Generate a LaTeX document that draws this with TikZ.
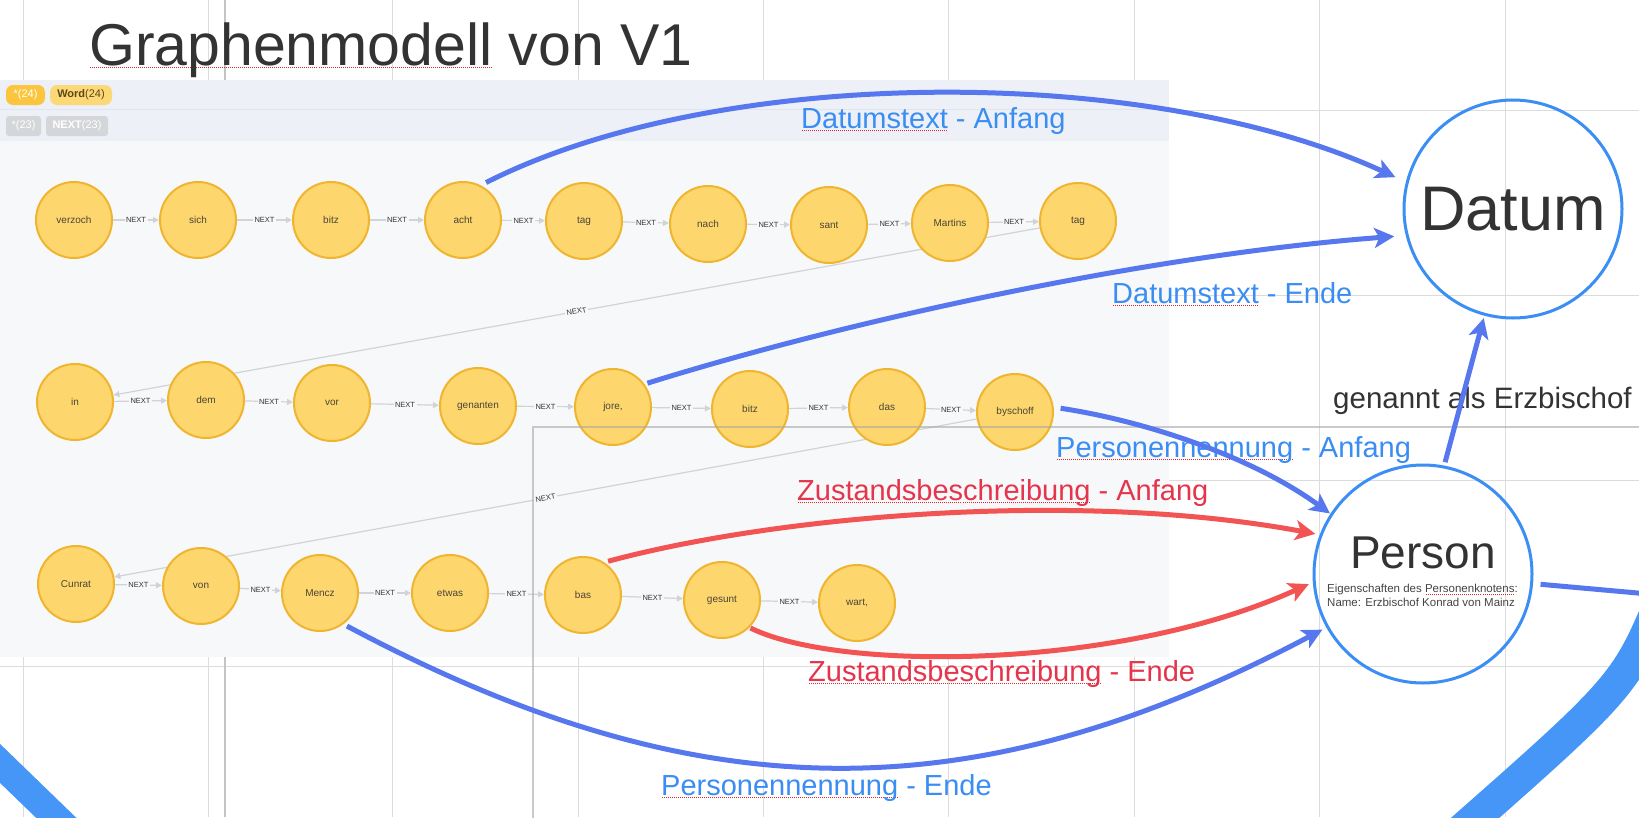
\documentclass[tikz,border=0pt]{standalone}
\usepackage{fontspec}
\setmainfont{Liberation Sans}
\usetikzlibrary{arrows.meta}
\pgfdeclarelayer{bg}
\pgfdeclarelayer{edges}
\pgfsetlayers{bg,edges,main}
\definecolor{gridgray}{HTML}{DCDCDC}
\definecolor{darkgrid}{HTML}{C4C4C4}
\definecolor{panelbg}{HTML}{F7F8FA}
\definecolor{barbg}{HTML}{EDF0F7}
\definecolor{bardiv}{HTML}{E1E5EE}
\definecolor{pillyellow}{HTML}{FBC53E}
\definecolor{pilllight}{HTML}{FDD877}
\definecolor{pilltext}{HTML}{5B4616}
\definecolor{pillgray}{HTML}{D5D6D9}
\definecolor{wordfill}{HTML}{FDD66E}
\definecolor{wordline}{HTML}{EFB52F}
\definecolor{wordtext}{HTML}{4A4536}
\definecolor{edgegray}{HTML}{D2D3D6}
\definecolor{nexttext}{HTML}{333333}
\definecolor{titlegray}{HTML}{333333}
\definecolor{smallgray}{HTML}{444444}
\definecolor{labelblue}{HTML}{3A8DF2}
\definecolor{labelred}{HTML}{E5344C}
\definecolor{arrowblue}{HTML}{5677EE}
\definecolor{arrowred}{HTML}{F25353}
\definecolor{circleblue}{HTML}{3B8EF3}
\definecolor{bandblue}{HTML}{4596F7}
\definecolor{spellred}{HTML}{E02828}
\definecolor{rectgray}{HTML}{A8A8A8}
\newsavebox\spellbox
\newcommand\spell[1]{\sbox\spellbox{#1}\rlap{\textcolor{spellred}{\raisebox{-3pt}{\hbox to \wd\spellbox{\xleaders\hbox to 2pt{\hss\vrule width 1pt height 1pt depth 0pt\hss}\hfill}}}}\usebox\spellbox}

\begin{document}
\begin{tikzpicture}[x=1pt,y=-1pt,
  >={Stealth[length=20pt,width=20pt,inset=5pt]},
  gridline/.style={draw=gridgray,line width=1pt},
  word/.style={circle,fill=wordfill,draw=wordline,line width=2pt,minimum size=76pt,inner sep=0pt,text=wordtext,font=\fontsize{10}{12}\selectfont},
  nextedge/.style={draw=edgegray,line width=1.2pt,->,>={Triangle[length=6pt,width=6pt]}},
  nextlbl/.style={fill=panelbg,inner sep=1.5pt,text=nexttext,font=\fontsize{7.5}{9}\selectfont},
  pill/.style={rounded corners=7pt,inner sep=0pt,minimum height=20pt,font=\fontsize{11}{13}\selectfont},
  relblue/.style={draw=arrowblue,line width=5pt,->},
  relred/.style={draw=arrowred,line width=5pt,->},
  bluelbl/.style={text=labelblue,font=\fontsize{29}{35}\selectfont,inner sep=0pt,anchor=base west},
  redlbl/.style={text=labelred,font=\fontsize{29}{35}\selectfont,inner sep=0pt,anchor=base west},
  bignode/.style={circle,draw=circleblue,line width=3pt,minimum size=218pt,inner sep=0pt,outer sep=0pt},
  band/.style={draw=bandblue}
]
\useasboundingbox (0,0) rectangle (1639,817);
\clip (0,0) rectangle (1639,817);

\begin{pgfonlayer}{bg}
\fill[white] (0,0) rectangle (1639,817);
\draw[gridline] (23,0) -- (23,817);\draw[gridline] (208,0) -- (208,817);\draw[gridline] (392,0) -- (392,817);\draw[gridline] (578,0) -- (578,817);\draw[gridline] (763,0) -- (763,817);
\draw[gridline] (948,0) -- (948,817);\draw[gridline] (1134,0) -- (1134,817);\draw[gridline] (1319,0) -- (1319,817);\draw[gridline] (1505,0) -- (1505,817);
\draw[gridline] (0,110) -- (1639,110);\draw[gridline] (0,295) -- (1639,295);\draw[gridline] (0,480) -- (1639,480);\draw[gridline] (0,666) -- (1639,666);
\draw[draw=darkgrid,line width=1.5pt] (225,0) -- (225,817);
\fill[panelbg] (0,80) rectangle (1169,657);
\fill[barbg] (0,80) rectangle (1169,141);
\draw[bardiv,line width=1pt] (0,109.5) -- (1169,109.5);
\end{pgfonlayer}
\fill[black!80] (193,69) rectangle (196,77);

\node[pill,fill=pillyellow,text=white,minimum width=39pt] (starwords) at (25.5,95) {*(24)};
\node[pill,fill=pilllight,text=pilltext,minimum width=62pt] (wordlabel) at (81,95) {\textbf{Word}(24)};
\node[pill,fill=pillgray,text=white,minimum width=35pt,rounded corners=3pt] (starrels) at (23.5,126) {*(23)};
\node[pill,fill=pillgray,text=white,minimum width=62pt,rounded corners=3pt] (nextrels) at (77,126) {\textbf{NEXT}(23)};

\node[word] (verzoch) at (74,220) {verzoch};
\node[word] (sich) at (198,220) {sich};
\node[word] (bitzA) at (331,220) {bitz};
\node[word] (acht) at (463,220) {acht};
\node[word] (tagA) at (584,221) {tag};
\node[word] (nach) at (708,224) {nach};
\node[word] (sant) at (829,225) {sant};
\node[word] (martins) at (950,223) {Martins};
\node[word] (tagB) at (1078,221) {tag};
\node[word] (inA) at (75,402) {in};
\node[word] (dem) at (206,400) {dem};
\node[word] (vor) at (332,403) {vor};
\node[word] (genanten) at (478,406) {genanten};
\node[word] (jore) at (613,407) {jore,};
\node[word] (bitzB) at (750,409) {bitz};
\node[word] (das) at (887,407) {das};
\node[word] (byschoff) at (1015,412) {byschoff};
\node[word] (cunrat) at (76,584) {Cunrat};
\node[word] (von) at (201,586) {von};
\node[word] (mencz) at (320,593) {Mencz};
\node[word] (etwas) at (450,593) {etwas};
\node[word] (bas) at (583,595) {bas};
\node[word] (gesunt) at (722,600) {gesunt};
\node[word] (wart) at (857,603) {wart,};

\begin{pgfonlayer}{edges}
\draw[nextedge] (verzoch) -- node[nextlbl]{NEXT} (sich);\draw[nextedge] (sich) -- node[nextlbl]{NEXT} (bitzA);\draw[nextedge] (bitzA) -- node[nextlbl]{NEXT} (acht);\draw[nextedge] (acht) -- node[nextlbl]{NEXT} (tagA);
\draw[nextedge] (tagA) -- node[nextlbl]{NEXT} (nach);\draw[nextedge] (nach) -- node[nextlbl]{NEXT} (sant);\draw[nextedge] (sant) -- node[nextlbl]{NEXT} (martins);\draw[nextedge] (martins) -- node[nextlbl]{NEXT} (tagB);
\draw[nextedge] (tagB) -- node[nextlbl,sloped]{NEXT} (inA);
\draw[nextedge] (inA) -- node[nextlbl]{NEXT} (dem);\draw[nextedge] (dem) -- node[nextlbl]{NEXT} (vor);\draw[nextedge] (vor) -- node[nextlbl]{NEXT} (genanten);\draw[nextedge] (genanten) -- node[nextlbl]{NEXT} (jore);
\draw[nextedge] (jore) -- node[nextlbl]{NEXT} (bitzB);\draw[nextedge] (bitzB) -- node[nextlbl]{NEXT} (das);\draw[nextedge] (das) -- node[nextlbl]{NEXT} (byschoff);
\draw[nextedge] (byschoff) -- node[nextlbl,sloped]{NEXT} (cunrat);
\draw[nextedge] (cunrat) -- node[nextlbl]{NEXT} (von);\draw[nextedge] (von) -- node[nextlbl]{NEXT} (mencz);\draw[nextedge] (mencz) -- node[nextlbl]{NEXT} (etwas);\draw[nextedge] (etwas) -- node[nextlbl]{NEXT} (bas);
\draw[nextedge] (bas) -- node[nextlbl]{NEXT} (gesunt);\draw[nextedge] (gesunt) -- node[nextlbl]{NEXT} (wart);
\end{pgfonlayer}

\draw[draw=rectgray,draw opacity=0.6,line width=2pt] (1650,427) -- (533,427) -- (533,830);

\node[anchor=base west,inner sep=0pt,text=titlegray,font=\fontsize{59}{70}\selectfont] (title) at (89,65) {\spell{Graphenmodell} von V1};

\node[bignode,text=titlegray,font=\fontsize{63}{75}\selectfont] (datum) at (1513,209) {Datum};
\node[bignode] (person) at (1423,574) {};
\node[anchor=base,inner sep=0pt,text=titlegray,font=\fontsize{46}{55}\selectfont] (pname) at (1423,568) {Person};
\node[anchor=base west,inner sep=0pt,text=smallgray,font=\fontsize{11.5}{14}\selectfont] (pinfoA) at (1327,592) {Eigenschaften des \spell{Personenknotens}:};
\node[anchor=base west,inner sep=0pt,text=smallgray,font=\fontsize{11.5}{14}\selectfont] (pinfoB) at (1327,606) {Name: Erzbischof Konrad von Mainz};
\coordinate (offR) at (1660,595);

\node[bluelbl] (datanf) at (801,128) {\spell{Datumstext} - Anfang};
\node[bluelbl] (datend) at (1112,303) {\spell{Datumstext} - Ende};
\node[bluelbl] (persanf) at (1056,457) {\spell{Personennennung} - Anfang};
\node[redlbl] (zustanf) at (797,500) {\spell{Zustandsbeschreibung} - Anfang};
\node[redlbl] (zustend) at (808,681) {\spell{Zustandsbeschreibung} - Ende};
\node[bluelbl] (persend) at (661,795) {\spell{Personennennung} - Ende};
\node[anchor=base west,inner sep=0pt,text=titlegray,font=\fontsize{29.5}{35}\selectfont] (erzb) at (1333,408) {genannt als Erzbischof};

\draw[relblue,shorten <=6pt,shorten >=13pt] (acht.63) .. controls (720,64) and (1150,64) .. (datum.166);
\draw[relblue,shorten <=3pt,shorten >=13pt] (jore.36) .. controls (850,320) and (1150,255) .. (datum.194);
\draw[relblue,shorten <=7pt,shorten >=2pt] (byschoff.7) .. controls (1140,420) and (1250,455) .. (person.147);
\draw[relred,shorten <=4pt,shorten >=6pt] (bas.57) .. controls (780,515) and (1080,490) .. (person.159);
\draw[relred,shorten <=1pt,shorten >=6pt] (gesunt.315) .. controls (840,672) and (1120,670) .. (person.184);
\draw[relblue,shorten <=4pt,shorten >=6pt] (mencz.307) .. controls (699,814) and (974,814) .. (person.209);
\draw[relblue,shorten <=5pt,shorten >=4pt] (person.79) -- (datum.255);
\draw[draw=arrowblue,line width=5pt,shorten <=9pt] (person.355) -- (offR);

\draw[band,line width=28pt] (-20,744) -- (75,836);
\draw[band,line width=32pt] (1665,590) .. controls (1626,685) .. (1450,840);
\end{tikzpicture}
\end{document}
